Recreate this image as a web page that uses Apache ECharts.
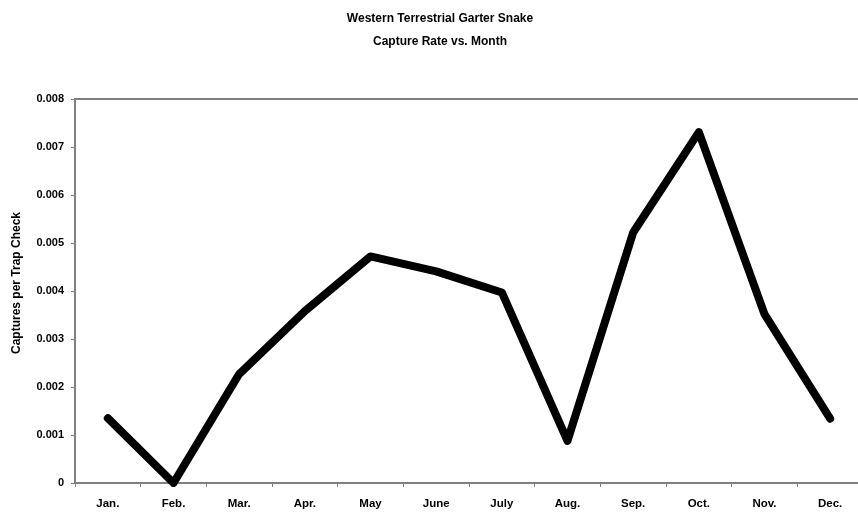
<!DOCTYPE html>
<html>
<head>
<meta charset="utf-8">
<script src="https://cdn.jsdelivr.net/npm/echarts@6/dist/echarts.min.js"></script>
<style>
  html, body { margin: 0; padding: 0; background: #fff; }
  #chart { width: 858px; height: 512px; }
</style>
</head>
<body>
<div id="chart"></div>
<script>
const months = ["Jan.", "Feb.", "Mar.", "Apr.", "May", "June", "July", "Aug.", "Sep.", "Oct.", "Nov.", "Dec."];
const captureRate = [0.00135, 0.0, 0.00227, 0.00358, 0.00472, 0.00441, 0.00397, 0.00088, 0.00522, 0.00731, 0.00352, 0.00134];

const font = "Liberation Sans, Arial, sans-serif";
const axisGray = "#808080";

const chart = echarts.init(document.getElementById("chart"));
chart.setOption({
  animation: false,
  title: {
    text: "Western Terrestrial Garter Snake\nCapture Rate vs. Month",
    left: 435,
    top: 2,
    textAlign: "center",
    textStyle: {
      fontFamily: font,
      fontWeight: "bold",
      fontSize: 12,
      lineHeight: 23,
      color: "#000"
    }
  },
  grid: {
    left: 75,
    top: 99,
    width: 788,
    bottom: 29,
    outerBoundsMode: "none",
    containLabel: false,
    show: true,
    borderColor: axisGray,
    borderWidth: 2
  },
  xAxis: {
    type: "category",
    data: months,
    boundaryGap: true,
    axisLine: { lineStyle: { color: axisGray, width: 2 } },
    axisTick: { show: true, length: 4, lineStyle: { color: axisGray } },
    axisLabel: {
      fontFamily: font,
      fontWeight: "bold",
      fontSize: 11.5,
      color: "#000",
      margin: 15
    },
    splitLine: { show: false }
  },
  yAxis: {
    type: "value",
    min: 0,
    max: 0.008,
    interval: 0.001,
    name: "Captures per Trap Check",
    nameLocation: "middle",
    nameGap: 52,
    nameTextStyle: {
      fontFamily: font,
      fontWeight: "bold",
      fontSize: 12,
      color: "#000",
      padding: [0, 0, 0, 16]
    },
    axisLine: { show: true, lineStyle: { color: axisGray, width: 2 } },
    axisTick: { show: true, length: 4, lineStyle: { color: axisGray } },
    axisLabel: {
      fontFamily: font,
      fontWeight: "bold",
      fontSize: 11,
      color: "#000",
      margin: 11,
      formatter: function (v) { return v === 0 ? "0" : v.toFixed(3); }
    },
    splitLine: { show: false }
  },
  series: [
    {
      type: "line",
      data: captureRate,
      showSymbol: false,
      symbol: "none",
      lineStyle: { color: "#000", width: 8, cap: "round", join: "round" }
    }
  ]
});
</script>
</body>
</html>
